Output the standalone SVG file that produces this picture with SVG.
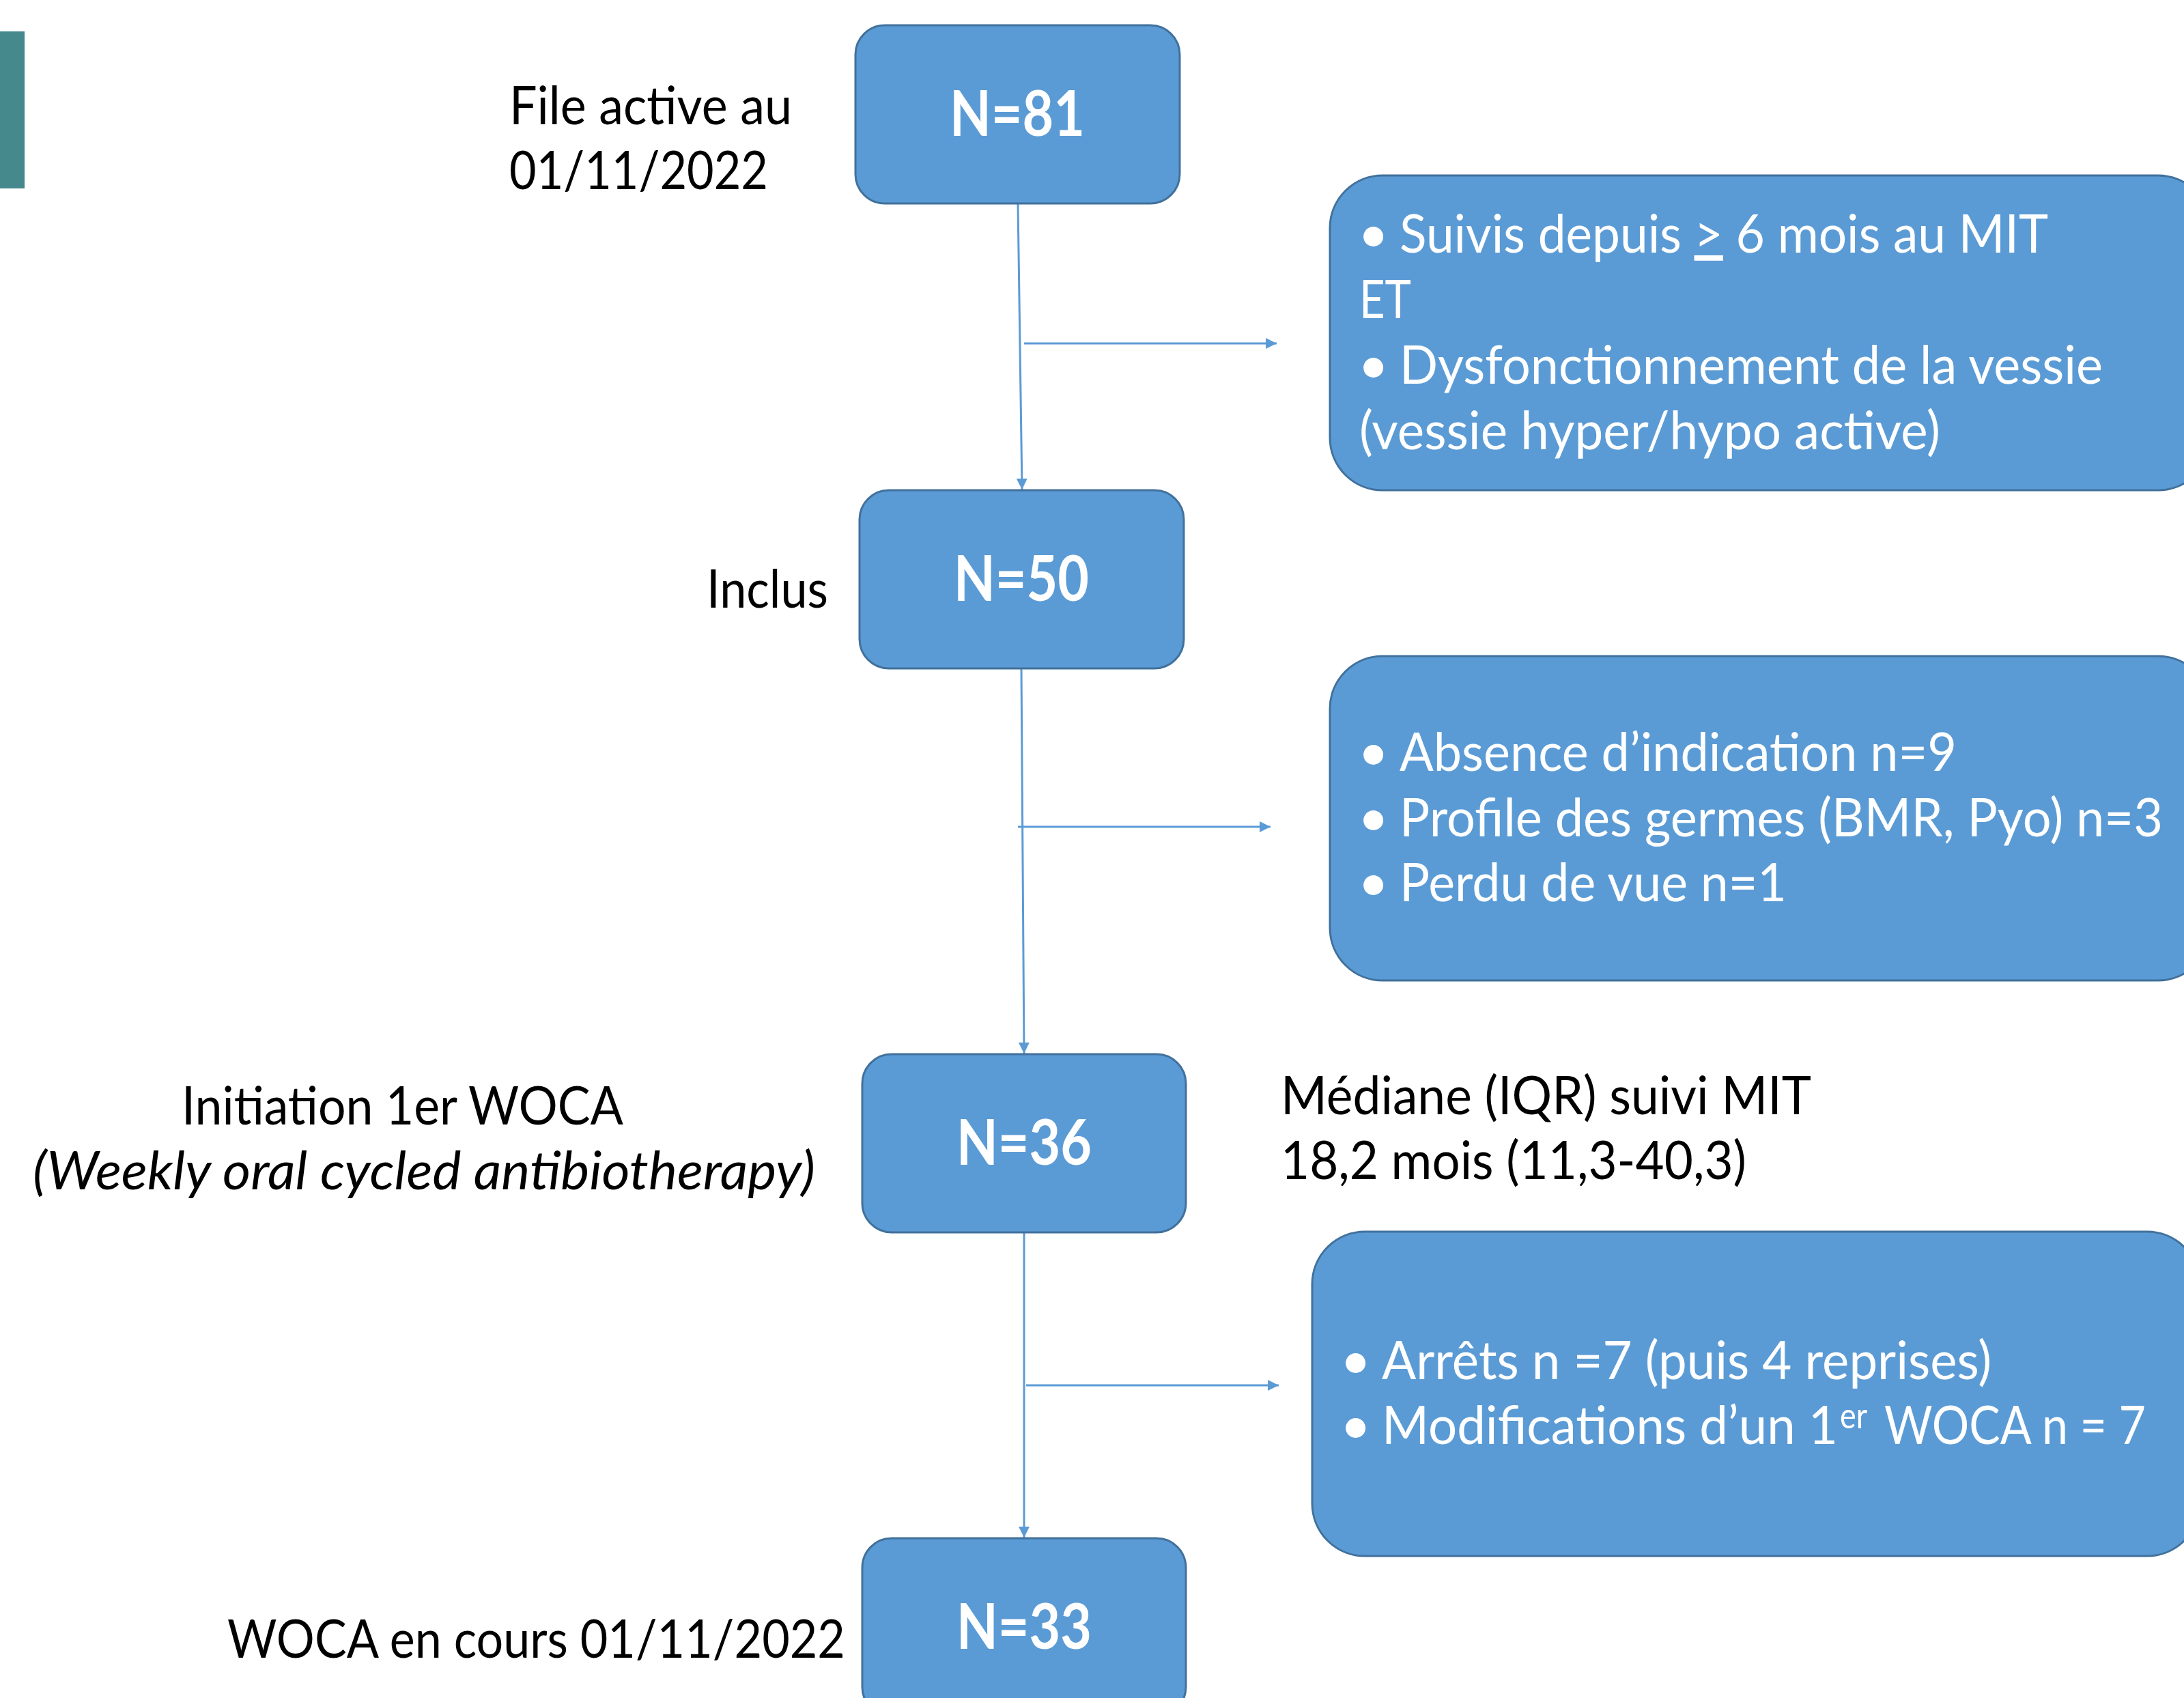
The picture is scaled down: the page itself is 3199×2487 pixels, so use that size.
<svg xmlns="http://www.w3.org/2000/svg" width="3199" height="2487" viewBox="0 0 3199 2487">
<style>
.box{fill:#5B9BD5;stroke:#41719C;stroke-width:3}
.big{fill:#5B9BD5;stroke:#41719C;stroke-width:3}
.n{font-family:Lato,"Open Sans",sans-serif;font-weight:bold;font-size:92px;fill:#fff;text-anchor:middle}
.t{font-family:Lato,"Open Sans",sans-serif;font-size:78px;fill:#000}
.w{font-family:Lato,"Open Sans",sans-serif;font-size:78px;fill:#fff}
.sup{font-family:Lato,"Open Sans",sans-serif;font-size:52px;fill:#fff}
.c{stroke:#5B9BD5;stroke-width:3;fill:none}
</style>
<defs>
<marker id="ah" markerUnits="userSpaceOnUse" markerWidth="16" markerHeight="16" viewBox="0 0 16 16" refX="16" refY="8" orient="auto">
<path d="M0,0 L16,8 L0,16 Z" fill="#5B9BD5"/>
</marker>
</defs>
<rect width="3199" height="2487" fill="#fff"/>
<rect id="accent" x="0" y="46" width="36" height="230" fill="#45898D"/>

<g id="connectors">
<line class="c" x1="1491" y1="298" x2="1497" y2="717" marker-end="url(#ah)"/>
<line class="c" x1="1500" y1="503" x2="1870" y2="503" marker-end="url(#ah)"/>
<line class="c" x1="1496" y1="979" x2="1500" y2="1543" marker-end="url(#ah)"/>
<line class="c" x1="1491" y1="1211" x2="1861" y2="1211" marker-end="url(#ah)"/>
<line class="c" x1="1500" y1="1805" x2="1500" y2="2252" marker-end="url(#ah)"/>
<line class="c" x1="1503" y1="2029" x2="1873" y2="2029" marker-end="url(#ah)"/>
</g>

<g id="n81">
<rect class="box" x="1253" y="37" width="475" height="261" rx="43" ry="43"/>
<text class="n" x="1490" y="199" textLength="198" lengthAdjust="spacingAndGlyphs">N=81</text>
</g>
<g id="lbl-file">
<text class="t" x="746" y="182" textLength="414" lengthAdjust="spacingAndGlyphs">File active au</text>
<text class="t" x="746" y="277" textLength="379" lengthAdjust="spacingAndGlyphs">01/11/2022</text>
</g>

<g id="excl1">
<rect class="big" x="1948" y="257" width="1290" height="461" rx="77" ry="77"/>
<text class="w" x="1989" y="370">•</text>
<text class="w" x="2050" y="370" textLength="950" lengthAdjust="spacingAndGlyphs">Suivis depuis <tspan text-decoration="underline">&gt;</tspan> 6 mois au MIT</text>
<text class="w" x="1991" y="466" textLength="76" lengthAdjust="spacingAndGlyphs">ET</text>
<text class="w" x="1989" y="562">•</text>
<text class="w" x="2050" y="562" textLength="1030" lengthAdjust="spacingAndGlyphs">Dysfonctionnement de la vessie</text>
<text class="w" x="1991" y="658" textLength="851" lengthAdjust="spacingAndGlyphs">(vessie hyper/hypo active)</text>
</g>

<g id="n50">
<rect class="box" x="1259" y="718" width="475" height="261" rx="43" ry="43"/>
<text class="n" x="1496" y="880" textLength="198" lengthAdjust="spacingAndGlyphs">N=50</text>
</g>
<text id="lbl-inclus" class="t" x="1035" y="890" textLength="178" lengthAdjust="spacingAndGlyphs">Inclus</text>

<g id="excl2">
<rect class="big" x="1948" y="961" width="1290" height="475" rx="77" ry="77"/>
<text class="w" x="1989" y="1129">•</text>
<text class="w" x="2050" y="1129" textLength="816" lengthAdjust="spacingAndGlyphs">Absence d’indication n=9</text>
<text class="w" x="1989" y="1225">•</text>
<text class="w" x="2050" y="1225" textLength="1118" lengthAdjust="spacingAndGlyphs">Profile des germes (BMR, Pyo) n=3</text>
<text class="w" x="1989" y="1320">•</text>
<text class="w" x="2050" y="1320" textLength="567" lengthAdjust="spacingAndGlyphs">Perdu de vue n=1</text>
</g>

<g id="n36">
<rect class="box" x="1263" y="1544" width="474" height="261" rx="43" ry="43"/>
<text class="n" x="1500" y="1706" textLength="198" lengthAdjust="spacingAndGlyphs">N=36</text>
</g>
<g id="lbl-init">
<text class="t" x="266" y="1647" textLength="647" lengthAdjust="spacingAndGlyphs">Initiation 1er WOCA</text>
<text class="t" x="48" y="1742" font-style="italic" textLength="1146" lengthAdjust="spacingAndGlyphs">(Weekly oral cycled antibiotherapy)</text>
</g>
<g id="lbl-mediane">
<text class="t" x="1876" y="1632" textLength="777" lengthAdjust="spacingAndGlyphs">Médiane (IQR) suivi MIT</text>
<text class="t" x="1876" y="1727" textLength="682" lengthAdjust="spacingAndGlyphs">18,2 mois (11,3-40,3)</text>
</g>

<g id="excl3">
<rect class="big" x="1922" y="1804" width="1300" height="475" rx="77" ry="77"/>
<text class="w" x="1963" y="2020">•</text>
<text class="w" x="2024" y="2020" textLength="893" lengthAdjust="spacingAndGlyphs">Arrêts n =7 (puis 4 reprises)</text>
<text class="w" x="1963" y="2115">•</text>
<text class="w" x="2024" y="2115" textLength="668" lengthAdjust="spacingAndGlyphs">Modifications d’un 1</text>
<text class="sup" x="2695" y="2092" textLength="40" lengthAdjust="spacingAndGlyphs">er</text>
<text class="w" x="2760" y="2115" textLength="383" lengthAdjust="spacingAndGlyphs">WOCA n = 7</text>
</g>

<g id="n33">
<rect class="box" x="1263" y="2253" width="474" height="261" rx="43" ry="43"/>
<text class="n" x="1500" y="2415" textLength="198" lengthAdjust="spacingAndGlyphs">N=33</text>
</g>
<text id="lbl-encours" class="t" x="333" y="2428" textLength="905" lengthAdjust="spacingAndGlyphs">WOCA en cours 01/11/2022</text>
</svg>
